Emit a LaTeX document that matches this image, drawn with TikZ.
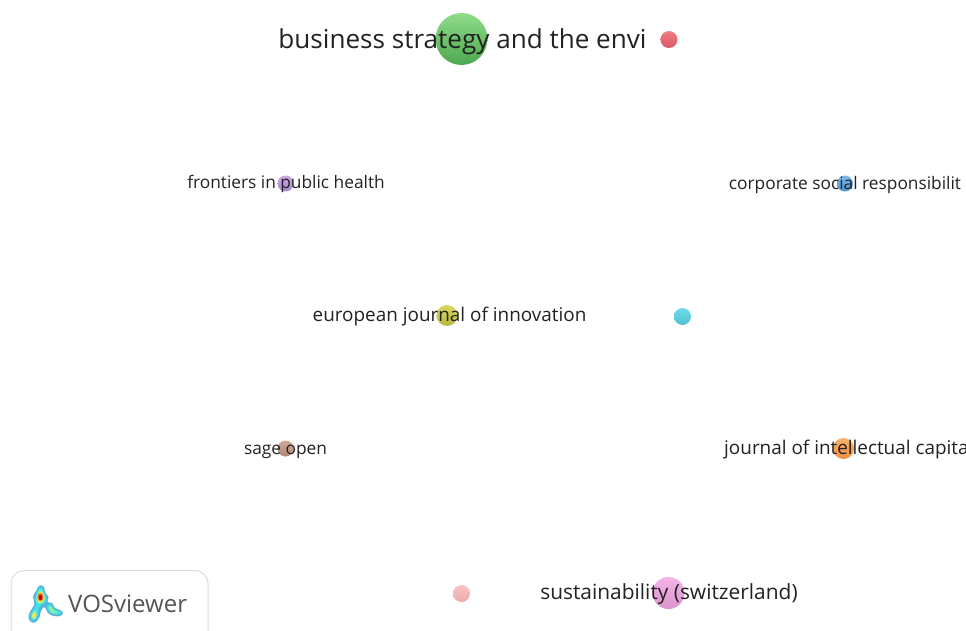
\documentclass[tikz,border=0pt]{standalone}
\usepackage{fontspec}
\setmainfont{Open Sans}
\definecolor{lbl}{HTML}{222222}
\definecolor{gT}{HTML}{8FDC8A}\definecolor{gB}{HTML}{4DA84F}
\definecolor{rT}{HTML}{F08080}\definecolor{rB}{HTML}{DC5566}
\definecolor{pT}{HTML}{CDA8E8}\definecolor{pB}{HTML}{A888CC}
\definecolor{bT}{HTML}{7DB8EA}\definecolor{bB}{HTML}{4D94D0}
\definecolor{yT}{HTML}{D8D860}\definecolor{yB}{HTML}{B8B840}
\definecolor{cT}{HTML}{70DCE8}\definecolor{cB}{HTML}{50C0D0}
\definecolor{brT}{HTML}{CFA898}\definecolor{brB}{HTML}{B08878}
\definecolor{oT}{HTML}{FBB068}\definecolor{oB}{HTML}{F09040}
\definecolor{piT}{HTML}{F8C4C4}\definecolor{piB}{HTML}{ECA8A8}
\definecolor{mT}{HTML}{F4B4E8}\definecolor{mB}{HTML}{DC94CC}
\definecolor{logotext}{HTML}{555555}
\definecolor{boxline}{HTML}{DDDDDD}
\definecolor{hA}{HTML}{58B4D8}\definecolor{hB}{HTML}{40E0E8}\definecolor{hC}{HTML}{90F0A0}\definecolor{hD}{HTML}{F4E850}\definecolor{hE}{HTML}{F07020}\definecolor{hF}{HTML}{B80000}
\tikzset{
  x=1pt,y=-1pt,
  blob/.style={circle,inner sep=0pt,minimum size=#1,draw=none},
  lab/.style={inner sep=0pt,text=lbl,anchor=base}
}
\begin{document}
\begin{tikzpicture}
\path[use as bounding box] (0,0) rectangle (966,631);
\clip (0,0) rectangle (966,631);
\fill[white] (0,0) rectangle (966,631);
% circles
\node[blob=52pt,top color=gT,bottom color=gB] (n1) at (461.5,39) {};
\node[blob=17pt,top color=rT,bottom color=rB] (n2) at (669,39.5) {};
\node[blob=16pt,top color=pT,bottom color=pB] (n3) at (285.5,183.5) {};
\node[blob=16pt,top color=bT,bottom color=bB] (n4) at (845,183.5) {};
\node[blob=21pt,top color=yT,bottom color=yB] (n5) at (447,315.5) {};
\node[blob=17pt,top color=cT,bottom color=cB] (n6) at (682.5,316.5) {};
\node[blob=16pt,top color=brT,bottom color=brB] (n7) at (285.5,448.5) {};
\node[blob=21pt,top color=oT,bottom color=oB] (n8) at (843.5,448.5) {};
\node[blob=17pt,top color=piT,bottom color=piB] (n9) at (461.5,593.5) {};
\node[blob=32pt,top color=mT,bottom color=mB] (n10) at (668.5,593) {};
% labels
\node[lab,font=\fontsize{26.1}{30}\selectfont] (t1) at (462.5,48.5) {business strategy and the envi};
\node[lab,font=\fontsize{17.3}{20}\selectfont] (t3) at (286,188.5) {frontiers in public health};
\node[lab,font=\fontsize{17.3}{20}\selectfont] (t4) at (845,189.5) {corporate social responsibilit};
\node[lab,font=\fontsize{18.9}{22}\selectfont] (t5) at (449.5,321) {european journal of innovation};
\node[lab,font=\fontsize{17.3}{20}\selectfont] (t7) at (285.5,454) {sage open};
\node[lab,font=\fontsize{18.9}{22}\selectfont,anchor=base west] (t8) at (724,454) {journal of intellectual capita};
\node[lab,font=\fontsize{20.9}{24}\selectfont] (t10) at (669,599) {sustainability (switzerland)};
% logo box and name
\draw[boxline,line width=1pt,rounded corners=13pt] (11,640) -- (11,570.5) -- (208,570.5) -- (208,640);
\node[inner sep=0pt,anchor=base west,text=logotext,font=\fontsize{24}{28}\selectfont] (logo) at (68,612) {VOSviewer};
% heat-map mark
\fill[hA] plot[smooth cycle,tension=.7] coordinates {(39.5,585.5) (44,587) (45,592) (48.5,597) (47.5,602) (52,603) (55,608) (60,610) (63,613) (60,616) (54,616) (48,613) (44.5,607) (41,611) (39.5,617) (35,622.5) (30,621) (28.5,616) (31,610) (34.5,604) (33,597) (36,591)};
\fill[hB] plot[smooth cycle,tension=.7] coordinates {(39.5,587.5) (43,589) (44,593) (46.5,597) (45,603) (40,606) (38.5,611) (37.5,617) (34,620.5) (31,619) (30.5,615) (33,610) (36,605) (35,598) (37,592)};
\fill[hB] plot[smooth cycle,tension=.7] coordinates {(49,604) (52,605) (54,609) (60,611.5) (61,613.5) (55,614.5) (50,612) (47,608)};
\fill[hC] plot[smooth cycle,tension=.7] coordinates {(40,590) (43,592) (45,597) (43.5,602) (39,604) (36.5,601) (37,595)};
\fill[hC] plot[smooth cycle,tension=.7] coordinates {(35,610) (36.5,613) (36,618) (33,619) (32,615)};
\fill[hC] plot[smooth cycle,tension=.7] coordinates {(49,606) (52,607.5) (54,611) (58,612.5) (55,613.5) (50,611)};
\fill[hD] plot[smooth cycle,tension=.7] coordinates {(40,592) (43,594) (44,598) (42,602) (38.5,602) (37.5,598)};
\fill[hD] (34,615.5) ellipse[x radius=1.8,y radius=2.8];
\fill[hE] (40.5,597) ellipse[x radius=3,y radius=4.2];
\fill[hF] (40.5,597.5) ellipse[x radius=1.7,y radius=2.6];
\end{tikzpicture}
\end{document}
